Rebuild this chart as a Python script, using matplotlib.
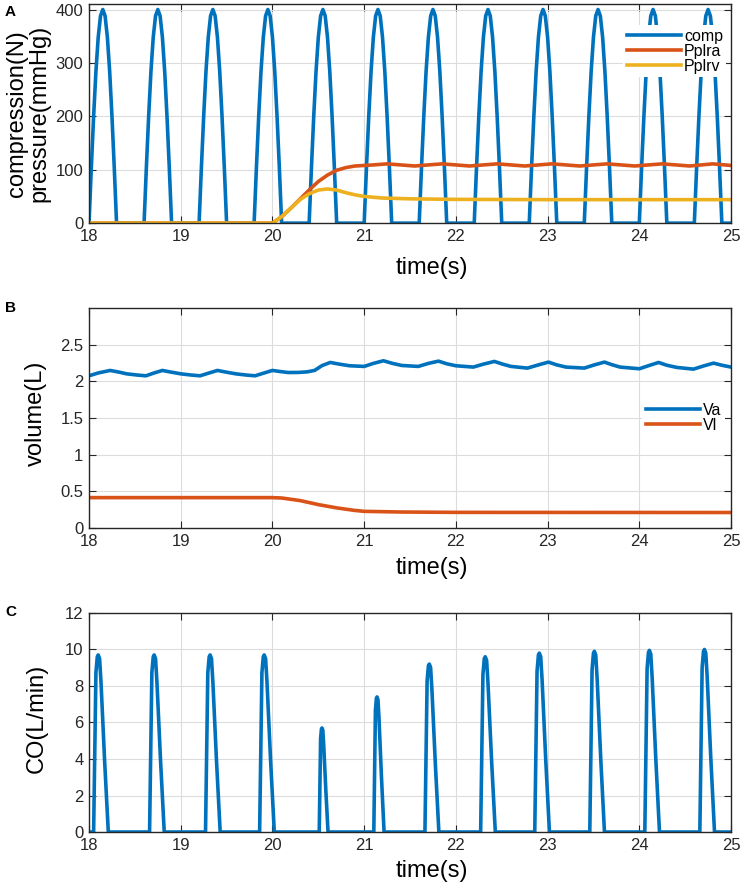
import numpy as np
import matplotlib.pyplot as plt

plt.rcParams['font.family'] = ['Liberation Sans', 'DejaVu Sans']

# MATLAB default colours
c_blue = '#0072BD'
c_red = '#D95319'
c_yel = '#EDB120'

# --- panel A: chest compression force and pleural pressures ---
comp_starts = [18.0, 18.6, 19.2, 19.8, 20.4, 21.0, 21.6, 22.2, 22.8, 23.4, 24.0, 24.6]
comp_peaks = [400, 400, 400, 400, 400, 400, 400, 400, 400, 400, 400, 400]
# one compression pulse (time offset in s, fraction of peak)
comp_shape_t = [0, 0.025, 0.05, 0.075, 0.1, 0.125, 0.15, 0.175, 0.2, 0.225, 0.25, 0.275, 0.3]
comp_shape_y = [0, 0.26, 0.5, 0.71, 0.87, 0.97, 1.0, 0.97, 0.87, 0.71, 0.5, 0.26, 0]

pplra_t = [18.0, 20.0, 20.1, 20.2, 20.3, 20.4, 20.5, 20.6, 20.7, 20.8, 20.9, 21.0, 21.1,
           21.25, 21.55, 21.85, 22.15, 22.45, 22.75, 23.05, 23.35, 23.65, 23.95, 24.25,
           24.55, 24.8, 25.0]
pplra = [0, 0, 12, 28, 45, 62, 78, 90, 99, 104, 107, 108, 109,
         111, 107, 111, 107, 111, 107, 111, 107, 111, 107, 111,
         107, 111, 108]

pplrv_t = [18.0, 20.0, 20.1, 20.2, 20.3, 20.4, 20.5, 20.6, 20.7, 20.8, 20.9, 21.0, 21.2,
           21.5, 22.0, 23.0, 25.0]
pplrv = [0, 0, 12, 28, 44, 55, 62, 64, 62, 57, 53, 50, 47, 45.5, 44.5, 44, 44]

# --- panel B: volumes ---
va_t = [18.00, 18.10, 18.23, 18.32, 18.41, 18.52, 18.62, 18.71, 18.80, 18.90, 19.00,
        19.11, 19.21, 19.31, 19.40, 19.50, 19.60, 19.71, 19.81, 19.91, 20.00, 20.08,
        20.17, 20.28, 20.38, 20.46, 20.54, 20.63, 20.73, 20.84, 21.00, 21.10, 21.21,
        21.31, 21.41, 21.59, 21.70, 21.81, 21.90, 22.00, 22.19, 22.30, 22.42, 22.51,
        22.60, 22.78, 22.90, 23.01, 23.10, 23.20, 23.40, 23.51, 23.62, 23.70, 23.79,
        24.00, 24.11, 24.21, 24.30, 24.41, 24.59, 24.70, 24.81, 24.90, 25.00]
va = [2.076, 2.115, 2.149, 2.128, 2.103, 2.087, 2.076, 2.115, 2.149, 2.125, 2.103,
      2.087, 2.076, 2.115, 2.149, 2.125, 2.103, 2.087, 2.076, 2.115, 2.149, 2.135,
      2.121, 2.122, 2.130, 2.150, 2.215, 2.258, 2.235, 2.213, 2.204, 2.245, 2.281,
      2.245, 2.217, 2.204, 2.245, 2.276, 2.240, 2.213, 2.195, 2.235, 2.272, 2.235,
      2.204, 2.181, 2.225, 2.263, 2.225, 2.195, 2.181, 2.225, 2.263, 2.228, 2.195,
      2.172, 2.218, 2.258, 2.220, 2.190, 2.167, 2.210, 2.249, 2.220, 2.195]

vl_t = [18.0, 19.0, 20.0, 20.1, 20.3, 20.5, 20.7, 20.9, 21.0, 21.4, 22.0, 25.0]
vl = [0.415, 0.415, 0.415, 0.41, 0.375, 0.32, 0.275, 0.24, 0.228, 0.219, 0.214, 0.212]

# --- panel C: cardiac output ---
co_peak_t = [18.10, 18.71, 19.32, 19.91, 20.54, 21.14, 21.71, 22.32, 22.91, 23.51, 24.11, 24.71]
co_peak = [9.7, 9.7, 9.7, 9.7, 5.7, 7.4, 9.2, 9.6, 9.8, 9.9, 9.95, 10.0]
co_width = [1.0, 1.0, 1.0, 1.0, 0.6, 0.7, 0.95, 1.0, 1.0, 1.0, 1.0, 1.0]
# one ejection pulse (offset from peak in s, fraction of peak)
co_shape_t = [-0.05, -0.025, -0.01, 0, 0.015, 0.03, 0.07, 0.11]
co_shape_y = [0, 0.9, 0.99, 1.0, 0.98, 0.85, 0.4, 0]

# assemble pulse trains
comp_t, comp = [], []
for s, p in zip(comp_starts, comp_peaks):
    comp_t += [s + d for d in comp_shape_t]
    comp += [p * f for f in comp_shape_y]
comp_t.append(25.0)
comp.append(0)

co_t, co = [18.0], [0]
for pt, p, w in zip(co_peak_t, co_peak, co_width):
    co_t += [pt + d * w for d in co_shape_t]
    co += [p * f for f in co_shape_y]
co_t.append(25.0)
co.append(0)

fig = plt.figure(figsize=(7.42, 8.89), dpi=100)
axA = fig.add_axes([0.12, 0.749, 0.8652, 0.2463])
axB = fig.add_axes([0.12, 0.406, 0.8652, 0.2475])
axC = fig.add_axes([0.12, 0.0641, 0.8652, 0.2464])


def style(ax):
    ax.set_xlim(18, 25)
    ax.set_xticks(range(18, 26))
    ax.grid(True, color='#dcdcdc', linewidth=0.8)
    ax.set_axisbelow(True)
    ax.tick_params(direction='in', top=True, right=True, length=5, width=0.8,
                   labelsize=12, colors='#262626', pad=4)
    for s in ax.spines.values():
        s.set_color('#262626')
        s.set_linewidth(1.0)
    ax.set_xlabel('time(s)', fontsize=17)


lw = 2.6

style(axA)
axA.plot(comp_t, comp, color=c_blue, lw=lw, label='comp')
axA.plot(pplra_t, pplra, color=c_red, lw=lw, label='Pplra')
axA.plot(pplrv_t, pplrv, color=c_yel, lw=lw, label='Pplrv')
axA.set_ylim(0, 410)
axA.set_yticks([0, 100, 200, 300, 400])
axA.set_ylabel('compression(N)\npressure(mmHg)', fontsize=17, linespacing=1.05)
axA.yaxis.set_label_coords(-0.06, 0.5)
axA.xaxis.set_label_coords(0.534, -0.155)
axA.legend(loc='upper right', bbox_to_anchor=(1.0, 0.925), fontsize=11.5, frameon=True,
           facecolor='white', edgecolor='none', fancybox=False, framealpha=1,
           handlelength=3.4, handletextpad=0.2, labelspacing=0.0, borderpad=0.2,
           borderaxespad=0.3)

style(axB)
axB.plot(va_t, va, color=c_blue, lw=lw, label='Va')
axB.plot(vl_t, vl, color=c_red, lw=lw, label='Vl')
axB.set_ylim(0, 3.0)
axB.set_yticks([0, 0.5, 1, 1.5, 2, 2.5])
axB.set_yticklabels(['0', '0.5', '1', '1.5', '2', '2.5'])
axB.set_ylabel('volume(L)', fontsize=17)
axB.yaxis.set_label_coords(-0.065, 0.52)
axB.xaxis.set_label_coords(0.534, -0.13)
axB.legend(loc='center right', bbox_to_anchor=(1.0, 0.5), fontsize=11.5, frameon=True,
           facecolor='white', edgecolor='none', fancybox=False, framealpha=1,
           handlelength=3.4, handletextpad=0.2, labelspacing=0.0, borderpad=0.2,
           borderaxespad=0.4)

style(axC)
axC.plot(co_t, co, color=c_blue, lw=lw)
axC.set_ylim(0, 12)
axC.set_yticks([0, 2, 4, 6, 8, 10, 12])
axC.set_ylabel('CO(L/min)', fontsize=17)
axC.yaxis.set_label_coords(-0.065, 0.52)
axC.xaxis.set_label_coords(0.534, -0.13)

for lab, y in [('A', 12), ('B', 308), ('C', 612)]:
    fig.text(5 / 742, 1 - y / 889, lab, fontsize=11, fontweight='bold', va='center', ha='left')

fig.savefig('out.png', dpi=100)
